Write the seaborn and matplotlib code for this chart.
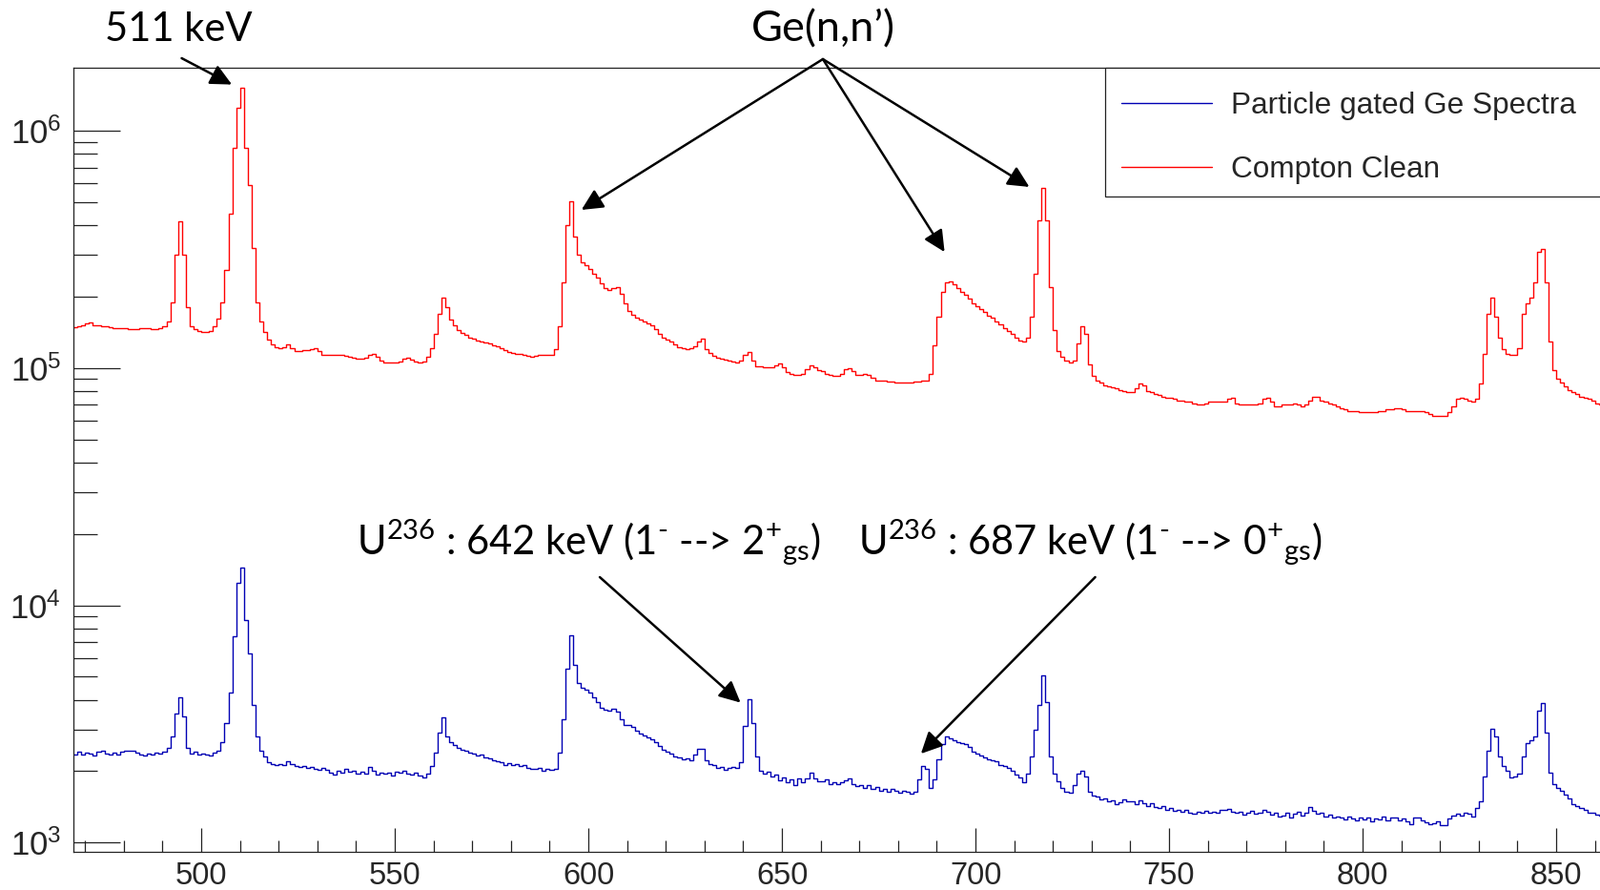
import matplotlib
matplotlib.use("Agg")
import matplotlib.pyplot as plt
import matplotlib.patches as mpatches
import numpy as np
import pandas as pd
import seaborn as sns
from matplotlib.lines import Line2D
from matplotlib.ticker import LogFormatterSciNotation, LogLocator, MultipleLocator


# spectrum bins: 1 keV wide, first bin starts at 466 keV
FIRST_BIN_KEV = 466

# Compton-cleaned spectrum, counts in thousands per bin
compton_clean_k = [
    148, 149, 150, 151, 155, 156, 152, 151, 150, 150,
    149, 148, 148, 147, 147, 146, 146, 146, 147, 148,
    148, 146, 146, 147, 150, 158, 190, 300, 415, 300,
    180, 150, 146, 143, 142, 142, 143, 150, 162, 190,
    260, 450, 850, 1250, 1520, 850, 590, 320, 190, 158,
    142, 132, 126, 123, 122, 123, 126, 122, 118, 118,
    119, 119, 120, 121, 118, 114, 114, 114, 114, 114,
    114, 113, 112, 111, 110, 110, 111, 114, 115, 112,
    108, 106, 106, 106, 106, 107, 110, 111, 109, 107,
    106, 107, 112, 122, 140, 170, 199, 180, 160, 152,
    145, 141, 138, 135, 133, 131, 129, 128, 127, 125,
    124, 122, 119, 117, 116, 115, 115, 114, 113, 112,
    113, 114, 114, 114, 114, 120, 150, 230, 400, 505,
    360, 300, 280, 272, 262, 250, 240, 228, 218, 213,
    218, 220, 205, 188, 175, 168, 163, 160, 157, 154,
    151, 146, 140, 135, 132, 129, 126, 123, 121, 120,
    121, 124, 130, 133, 120, 116, 113, 111, 110, 109,
    108, 107, 106, 108, 114, 117, 108, 102, 102, 101,
    101, 101, 103, 105, 101, 96, 95, 94, 94, 95,
    99, 103, 101, 98, 97, 95, 94, 93, 93, 95,
    99, 100, 97, 94, 94, 95, 94, 91, 89, 89,
    89, 88, 88, 87, 87, 87, 87, 87, 88, 88,
    89, 89, 95, 125, 165, 210, 230, 232, 225, 218,
    210, 204, 196, 188, 182, 177, 172, 167, 163, 158,
    153, 148, 144, 139, 134, 131, 129, 135, 165, 250,
    420, 575, 420, 220, 145, 118, 112, 108, 106, 108,
    127, 150, 140, 104, 93, 89, 87, 85, 84, 83,
    82, 81, 80, 79, 79, 82, 86, 85, 80, 79,
    78, 77, 76, 75, 75, 74, 73, 73, 72, 72,
    71, 70, 70, 71, 72, 72, 72, 72, 72, 74,
    75, 71, 70, 70, 70, 70, 70, 71, 74, 75,
    72, 69, 69, 70, 70, 70, 71, 70, 69, 70,
    73, 76, 76, 73, 72, 71, 70, 69, 68, 67,
    66, 66, 66, 65, 65, 65, 65, 65, 66, 66,
    67, 67, 68, 68, 67, 66, 66, 66, 66, 66,
    65, 64, 63, 63, 63, 63, 65, 69, 74, 75,
    74, 73, 72, 74, 86, 115, 170, 198, 165, 135,
    120, 115, 114, 114, 122, 170, 188, 198, 230, 310,
    318, 230, 130, 98, 90, 87, 84, 81, 79, 78,
    76, 75, 74, 73, 71, 70,
]

# particle gated spectrum, counts per bin
particle_gated = [
    2380, 2350, 2420, 2340, 2400, 2380, 2330, 2420, 2450, 2380,
    2360, 2390, 2340, 2420, 2450, 2430, 2440, 2400, 2360, 2330,
    2380, 2340, 2400, 2380, 2420, 2500, 2800, 3500, 4100, 3400,
    2500, 2380, 2420, 2350, 2380, 2360, 2330, 2400, 2450, 2640,
    3200, 4300, 7400, 12500, 14500, 8700, 6300, 3800, 2800, 2450,
    2300, 2180, 2140, 2120, 2150, 2130, 2200, 2150, 2100, 2080,
    2110, 2060, 2090, 2050, 2030, 2070, 2020, 1980, 1940, 2000,
    1970, 2040, 1990, 2010, 1960, 1990, 1950, 2080, 2000, 1940,
    1970, 1950, 1980, 1910, 1990, 1970, 2000, 1960, 1940, 1980,
    1910, 1890, 1960, 2100, 2400, 2900, 3360, 2800, 2650, 2580,
    2500, 2470, 2440, 2400, 2380, 2330, 2350, 2290, 2270, 2230,
    2200, 2180, 2130, 2160, 2120, 2140, 2100, 2130, 2070, 2050,
    2040, 2060, 2010, 2050, 2030, 2040, 2400, 3300, 5400, 7450,
    5600, 4700, 4480, 4400, 4300, 4100, 3900, 3700, 3640, 3600,
    3660, 3560, 3300, 3130, 3120, 3080, 2950, 2880, 2840, 2780,
    2720, 2640, 2560, 2470, 2420, 2380, 2310, 2280, 2240, 2260,
    2220, 2340, 2490, 2480, 2230, 2150, 2120, 2060, 2090, 2030,
    2070, 2080, 2060, 2180, 3100, 4030, 3200, 2300, 2000, 1960,
    1990, 1900, 1940, 1830, 1880, 1790, 1850, 1740, 1860, 1800,
    1870, 1980, 1870, 1820, 1810, 1840, 1770, 1790, 1760, 1800,
    1830, 1860, 1760, 1730, 1750, 1700, 1740, 1690, 1720, 1660,
    1690, 1640, 1680, 1650, 1620, 1660, 1640, 1610, 1640, 1850,
    2100, 2050, 1700, 1850, 2250, 2600, 2800, 2740, 2700, 2640,
    2620, 2600, 2540, 2420, 2380, 2320, 2280, 2250, 2220, 2200,
    2130, 2100, 2070, 2000, 1940, 1880, 1790, 1950, 2300, 3000,
    3800, 5080, 3900, 2300, 1950, 1820, 1700, 1640, 1620, 1750,
    1960, 2000, 1900, 1640, 1580, 1560, 1520, 1540, 1490, 1510,
    1450, 1480, 1520, 1490, 1500, 1450, 1510, 1460, 1430, 1460,
    1410, 1400, 1430, 1380, 1400, 1360, 1380, 1350, 1370, 1340,
    1320, 1350, 1330, 1360, 1340, 1350, 1330, 1370, 1380, 1390,
    1350, 1330, 1350, 1310, 1330, 1360, 1320, 1340, 1370, 1350,
    1310, 1330, 1290, 1300, 1340, 1280, 1320, 1350, 1300, 1340,
    1410, 1360, 1320, 1330, 1290, 1310, 1270, 1290, 1280, 1250,
    1290, 1260, 1240, 1270, 1250, 1280, 1230, 1260, 1250, 1290,
    1240, 1270, 1280, 1240, 1260, 1230, 1200, 1270, 1280, 1240,
    1220, 1200, 1210, 1230, 1190, 1180, 1260, 1300, 1320, 1300,
    1340, 1320, 1290, 1400, 1500, 1900, 2450, 3020, 2800, 2300,
    2100, 2000, 1880, 1900, 1950, 2300, 2620, 2700, 2800, 3600,
    3880, 2900, 1980, 1760, 1700, 1650, 1600, 1540, 1450, 1420,
    1400, 1380, 1340, 1330, 1310, 1300,
]

spectrum_names = ["Particle gated Ge Spectra", "Compton Clean"]
spectrum_colors = ["#0000b4", "#ff0000"]

# labels above the peaks, and the peak each arrow points at (keV, counts)
peak_labels = [
    "511 keV",
    "Ge(n,n\u2019)",
    "$U^{236}$ : 642 keV (1$^{\u2010}$ --> 2$^{+}$$_{gs}$)",
    "$U^{236}$ : 687 keV (1$^{\u2010}$ --> 0$^{+}$$_{gs}$)",
]
arrow_peak_kev = [507.9, 598.2, 692.0, 713.9, 639.3, 685.9]
arrow_peak_counts = [1.57e6, 4.65e5, 3.09e5, 5.81e5, 3.89e3, 2.37e3]

W, H = 1678, 933


def fig_xy(px, py):
    return px / W, 1 - py / H


def build_frame() -> pd.DataFrame:
    blue = pd.DataFrame({"energy": FIRST_BIN_KEV + 0.5 + np.arange(len(particle_gated)),
                         "counts": particle_gated,
                         "spectrum": spectrum_names[0]})
    red = pd.DataFrame({"energy": FIRST_BIN_KEV + 0.5 + np.arange(len(compton_clean_k)),
                        "counts": np.array(compton_clean_k) * 1000.0,
                        "spectrum": spectrum_names[1]})
    return pd.concat([blue, red], ignore_index=True)


def main() -> None:
    sns.set_theme(style="white")
    plt.rcParams["font.family"] = ["Liberation Sans", "DejaVu Sans"]
    plt.rcParams["mathtext.default"] = "regular"

    df = build_frame()

    fig = plt.figure(figsize=(W / 100, H / 100), dpi=100)
    x0, y_top, y_bot = 76.7, 71.0, 893.0
    xmin, xmax, px_per_kev = 466.9, 880.0, 4.06
    ax = fig.add_axes([x0 / W, 1 - y_bot / H,
                       (xmax - xmin) * px_per_kev / W, (y_bot - y_top) / H])

    palette = dict(zip(spectrum_names, spectrum_colors))
    sns.lineplot(data=df, x="energy", y="counts", hue="spectrum",
                 hue_order=spectrum_names, palette=palette, estimator=None,
                 drawstyle="steps-mid", linewidth=1.0, legend=False, ax=ax)

    ax.set_yscale("log")
    ax.set_xlim(xmin, xmax)
    ax.set_ylim(914, 1.848e6)
    ax.set_xlabel("")
    ax.set_ylabel("")

    ax.xaxis.set_major_locator(MultipleLocator(50))
    ax.xaxis.set_minor_locator(MultipleLocator(10))
    ax.yaxis.set_major_locator(LogLocator(base=10, numticks=20))
    ax.yaxis.set_minor_locator(LogLocator(base=10, subs=np.arange(2, 10) * 1.0, numticks=20))
    ax.yaxis.set_major_formatter(LogFormatterSciNotation())

    ax.tick_params(axis="x", which="major", direction="in", length=18, width=0.9,
                   labelsize=23.5, pad=7, color="#222222", bottom=True, top=False)
    ax.tick_params(axis="x", which="minor", direction="in", length=9, width=0.9,
                   color="#222222", bottom=True, top=False)
    ax.tick_params(axis="y", which="major", direction="in", length=35, width=0.9,
                   labelsize=25, pad=9, color="#222222", left=True, right=False)
    ax.tick_params(axis="y", which="minor", direction="in", length=18, width=0.9,
                   color="#222222", left=True, right=False)
    for side in ["left", "bottom", "top", "right"]:
        ax.spines[side].set_linewidth(0.9)
        ax.spines[side].set_color("#222222")

    # legend box, cut off by the right edge like in the original canvas
    lx, ly = fig_xy(1159, 206)
    box = mpatches.Rectangle((lx, ly), (1720 - 1159) / W, (206 - 71) / H,
                             transform=fig.transFigure, facecolor="white",
                             edgecolor="#222222", linewidth=0.9, zorder=4)
    fig.add_artist(box)
    handles = [Line2D([], [], color=c, lw=1.0) for c in spectrum_colors]
    fig.legend(handles, spectrum_names, loc="upper left",
               bbox_to_anchor=fig_xy(1159, 79), bbox_transform=fig.transFigure,
               frameon=False, fontsize=22.7, borderaxespad=0, borderpad=0.55,
               handlelength=3.0, handletextpad=0.65, labelspacing=1.15)

    font = dict(family="Lato", size=30, color="black")
    fig.text(*fig_xy(187.5, 43), peak_labels[0], ha="center", va="baseline", fontdict=font)
    fig.text(*fig_xy(863.5, 43), peak_labels[1], ha="center", va="baseline",
             fontdict=dict(font, size=32.5))
    fig.text(*fig_xy(617.5, 581), peak_labels[2], ha="center", va="baseline", fontdict=font)
    fig.text(*fig_xy(1143, 581), peak_labels[3], ha="center", va="baseline", fontdict=font)

    tails = [(190.5, 61), (863, 62), (863, 62), (863, 62), (629, 605), (1148.6, 605)]
    arrow = dict(arrowstyle="-|>,head_length=0.45,head_width=0.22", color="black",
                 lw=1.8, shrinkA=0, shrinkB=0, mutation_scale=30)
    for (tx, ty), kev, cnt in zip(tails, arrow_peak_kev, arrow_peak_counts):
        ax.annotate("", xy=(kev, cnt), xycoords="data",
                    xytext=fig_xy(tx, ty), textcoords="figure fraction",
                    arrowprops=arrow, annotation_clip=False)

    fig.savefig("out.png", dpi=100)
    plt.close(fig)


if __name__ == "__main__":
    main()
